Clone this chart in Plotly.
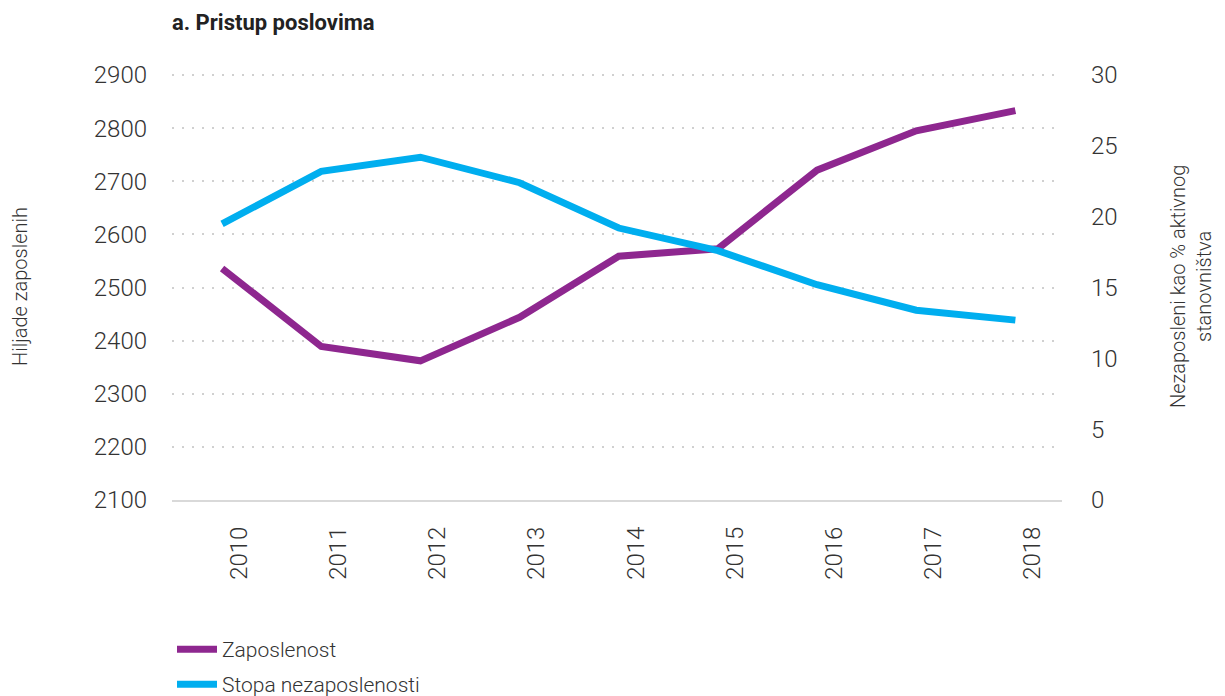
import plotly.graph_objects as go
from plotly.subplots import make_subplots

years = ["2010", "2011", "2012", "2013", "2014", "2015", "2016", "2017", "2018"]
zaposlenost = [2536, 2389, 2362, 2444, 2559, 2573, 2721, 2795, 2833]
stopa_nezaposlenosti = [19.5, 23.2, 24.2, 22.4, 19.2, 17.6, 15.2, 13.4, 12.7]

left_ticks = [2100, 2200, 2300, 2400, 2500, 2600, 2700, 2800, 2900]
right_ticks = [0, 5, 10, 15, 20, 25, 30]

FONT = "Roboto"
TXT = "#333333"

# page body has an 8px margin, so the figure is drawn a bit smaller
W, H = 1217, 688

fig = make_subplots(specs=[[{"secondary_y": True}]])

fig.add_trace(
    go.Scatter(x=years, y=zaposlenost, name="Zaposlenost", mode="lines",
               line=dict(color="#8E278F", width=7), legend="legend"),
    secondary_y=False,
)
fig.add_trace(
    go.Scatter(x=years, y=stopa_nezaposlenosti, name="Stopa nezaposlenosti", mode="lines",
               line=dict(color="#00AEEF", width=7), legend="legend2"),
    secondary_y=True,
)

leg_common = dict(orientation="v", x=164 / W, xref="container", xanchor="left",
                  yref="container", yanchor="top",
                  font=dict(family=FONT, size=21, color=TXT, weight=300),
                  itemwidth=40, bgcolor="rgba(0,0,0,0)", borderwidth=0)

fig.update_layout(
    width=W, height=H,
    paper_bgcolor="white", plot_bgcolor="white",
    margin=dict(l=164, r=163, t=66, b=196, autoexpand=False),
    font=dict(family=FONT, color=TXT, size=22, weight=300),
    title=dict(text="a. Pristup poslovima", x=164 / W, xanchor="left",
               y=1 - 7 / H, yanchor="top",
               font=dict(family=FONT, size=22, color="#222222", weight=700)),
    legend=dict(leg_common, y=1 - 621 / H),
    legend2=dict(leg_common, y=1 - 656 / H),
    showlegend=True,
)

fig.update_xaxes(
    type="category", tickangle=-90, showgrid=False, domain=[0, 1],
    showline=True, linecolor="#d9d9d9", linewidth=2,
    ticks="", tickfont=dict(family=FONT, size=24, color=TXT, weight=300),
    ticklabelstandoff=15, ticklabelshift=17,
    range=[-0.505, 8.47], automargin=False,
)

fig.update_yaxes(
    range=[2100, 2902], tickvals=left_ticks, showgrid=True,
    gridcolor="#d0d0d0", griddash="2px,8px", gridwidth=2, zeroline=False,
    showline=False, ticks="", tickfont=dict(family=FONT, size=24, color=TXT, weight=300),
    ticklabelstandoff=24, automargin=False,
    secondary_y=False,
)
fig.update_yaxes(
    range=[0, 30.075], tickvals=right_ticks, showgrid=False, zeroline=False,
    showline=False, ticks="", tickfont=dict(family=FONT, size=24, color=TXT, weight=300),
    ticklabelstandoff=28, automargin=False,
    secondary_y=True,
)

# axis titles
PW = W - 164 - 163
fig.add_annotation(text="Hiljade zaposlenih", xref="paper", yref="paper",
                   x=-152 / PW, y=0.5, xanchor="center", yanchor="middle",
                   textangle=-90, showarrow=False,
                   font=dict(family=FONT, size=20, color=TXT, weight=300))
fig.add_annotation(text="Nezaposleni kao % aktivnog<br>stanovništva", xref="paper", yref="paper",
                   x=1 + 129 / PW, y=0.5, xanchor="center", yanchor="middle",
                   textangle=-90, showarrow=False,
                   font=dict(family=FONT, size=20, color=TXT, weight=300))

fig.write_html("out.html")
